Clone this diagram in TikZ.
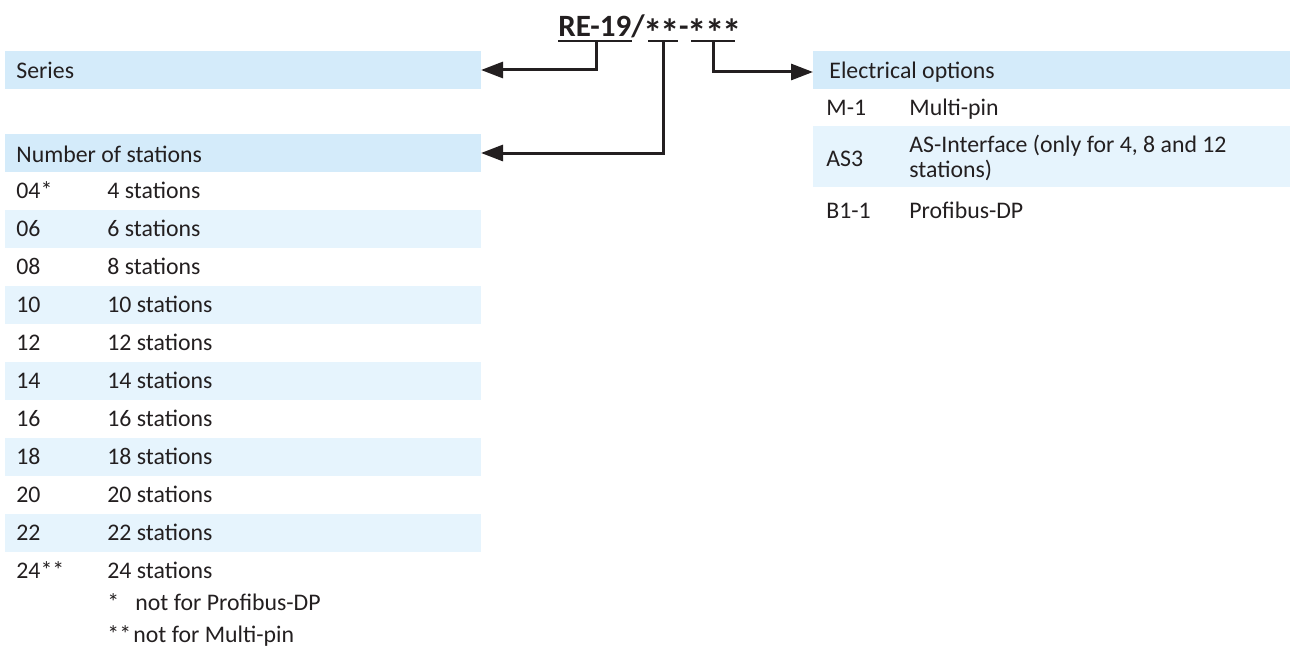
\documentclass[tikz,border=0pt]{standalone}
\usepackage{fontspec}
\setmainfont{Carlito}
\usetikzlibrary{arrows.meta}
\definecolor{hdr}{RGB}{212,235,250}
\definecolor{alt}{RGB}{230,244,253}
\definecolor{ink}{RGB}{35,31,32}
\newcommand{\bast}{\kern-0.5bp\raisebox{-5bp}{\scalebox{1.25}{*}}\kern-0.5bp}
\begin{document}
\begin{tikzpicture}[x=0.5bp,y=-0.5bp,
  font=\fontsize{11.9bp}{14bp}\selectfont, text=ink,
  band/.style={minimum width=238bp, minimum height=19bp, inner sep=0pt, outer sep=0pt, anchor=north west},
  hdrband/.style={band, fill=hdr},
  altband/.style={band, fill=alt},
  txt/.style={anchor=base west, inner sep=0pt},
  conn/.style={draw=ink, line width=1.5bp, -{Triangle[length=11bp,width=8bp]}},
  uline/.style={draw=ink, line width=1bp}]
\useasboundingbox (0,0) rectangle (1299,657);

% title
\node[txt, font=\bfseries\fontsize{15.5bp}{18bp}\selectfont] (title) at (558,37) {RE-19/\bast\bast-\bast\bast\bast};
\coordinate (u1a) at (558,41); \coordinate (u1b) at (632,41);
\coordinate (u2a) at (648,41); \coordinate (u2b) at (678,41);
\coordinate (u3a) at (691,41); \coordinate (u3b) at (735,41);
\draw[uline] (u1a) -- (u1b);
\draw[uline] (u2a) -- (u2b);
\draw[uline] (u3a) -- (u3b);
\coordinate (c1) at (596,41);
\coordinate (c2) at (663,41);
\coordinate (c3) at (713,41);

% headers
\node[hdrband] (series) at (5,51) {};
\node[txt] (seriest) at (16,79) {Series};
\node[hdrband] (nos) at (5,134) {};
\node[txt] (nost) at (16,162) {Number of stations};
\node[hdrband, minimum width=238.5bp] (elec) at (813,51) {};
\node[txt] (elect) at (829,79) {Electrical options};

% connectors
\draw[conn] (c1) |- (series.east);
\draw[conn] (c2) |- (nos.east);
\draw[conn] (c3) |- ([yshift=-1bp]elec.west);

% rows of stations
\foreach \c/\n [count=\k from 0] in {04*/4,06/6,08/8,10/10,12/12,14/14,16/16,18/18,20/20,22/22,24**/24} {
  \pgfmathsetmacro\ty{172+38*\k}
  \ifodd\k \node[altband] (row\k) at (5,\ty) {}; \fi
  \node[txt] (code\k) at (16,\ty+26.5) {\c};
  \node[txt] (desc\k) at (107,\ty+26.5) {\n\ stations};
}
\node[txt] (fn1a) at (107,610) {*};
\node[txt] (fn1b) at (135,610) {not for Profibus-DP};
\node[txt] (fn2a) at (107,642) {**};
\node[txt] (fn2b) at (133,642) {not for Multi-pin};

% electrical options
\node[txt] (m1c) at (826,116) {M-1};
\node[txt] (m1d) at (909,116) {Multi-pin};
\node[altband, minimum width=238.5bp, minimum height=30.5bp] (as3row) at (813,126) {};
\node[txt] (as3c) at (826,166) {AS3};
\node[txt] (as3d) at (909,152.5) {AS-Interface (only for 4, 8 and 12};
\node[txt] (as3e) at (909,177.5) {stations)};
\node[txt] (b1c) at (826,218) {B1-1};
\node[txt] (b1d) at (909,218) {Profibus-DP};
\end{tikzpicture}
\end{document}
